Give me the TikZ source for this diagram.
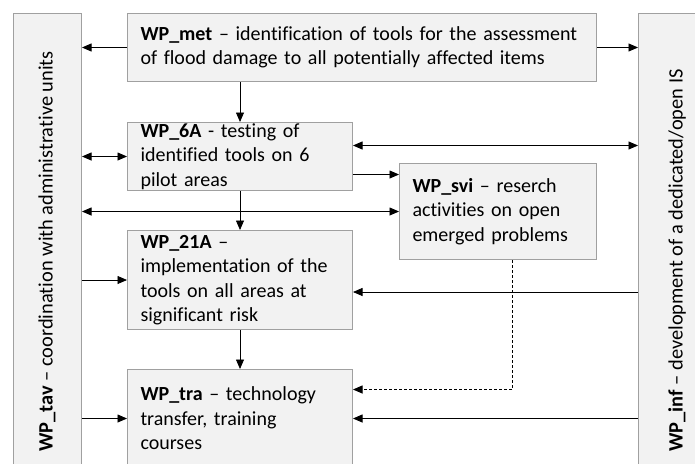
\documentclass[tikz,border=0pt]{standalone}
\usepackage{fontspec}
\setmainfont{Carlito}[Ligatures={NoCommon}]
\usetikzlibrary{arrows.meta,calc}
\definecolor{boxfill}{HTML}{F2F2F2}
\definecolor{boxline}{HTML}{A0A0A0}
\begin{document}
\begin{tikzpicture}[x=1pt,y=-1pt,
  wp/.style={draw=boxline, fill=boxfill, line width=1pt, rectangle, anchor=north west,
    inner xsep=13pt, inner ysep=0pt, align=left,
    font=\fontsize{20}{24.5}\selectfont},
  side/.style={draw=boxline, fill=boxfill, line width=1pt, rectangle, anchor=north west,
    minimum width=68pt, minimum height=460pt, inner sep=0pt},
  vlabel/.style={rotate=90, anchor=west, inner sep=0pt, font=\fontsize{20.4}{24}\selectfont},
  tip/.tip={Triangle[length=9.5pt,width=8pt]},
  arr/.style={line width=0.8pt, -tip},
  darr/.style={line width=0.8pt, tip-tip},
  dash arr/.style={line width=0.8pt, densely dashed, -tip}]
\useasboundingbox (0,0) rectangle (695,463);
\clip (0,0) rectangle (695,463);
\fill[white] (0,0) rectangle (695,463);
% side boxes
\node[side] (tav) at (13,13) {};
\node[side] (inf) at (638,13) {};
\node[vlabel] (tavl) at (47,452) {\textbf{WP\_tav} – coordination with administrative units};
\node[vlabel] (infl) at (677,452) {\textbf{WP\_inf} – development of a dedicated/open IS};
% main boxes
\node[wp, text width=443pt, minimum height=68pt] (met) at (127,13)
  {\textbf{WP\_met} – identification of tools for the assessment\\of flood damage to all potentially affected items};
\node[wp, text width=199pt, minimum height=68pt] (sixA) at (127,122)
  {\textbf{WP\_6A} - testing of\\identified tools on 6\\pilot areas};
\node[wp, text width=171pt, minimum height=96pt] (svi) at (399,163)
  {\textbf{WP\_svi} – reserch\\activities on open\\emerged problems};
\node[wp, text width=199pt, minimum height=99pt] (tw1A) at (127,230)
  {\textbf{WP\_21A} –\\implementation of the\\tools on all areas at\\significant risk};
\node[wp, text width=199pt, minimum height=98pt] (tra) at (127,369)
  {\textbf{WP\_tra} – technology\\transfer, training\\courses};
% connectors
\draw[arr] (met.west) -- (tav.east |- met.west);
\draw[arr] (met.east) -- (inf.west |- met.east);
\draw[arr] (sixA.north |- met.south) -- (sixA.north);
\draw[darr] (tav.east |- sixA.west) -- (sixA.west);
\coordinate (sixAr) at ($(sixA.east)+(0,-11)$);
\draw[darr] (sixAr) -- (inf.west |- sixAr);
\coordinate (sixAs) at ($(sixA.east)+(0,18)$);
\draw[arr] (sixAs) -- (svi.west |- sixAs);
\draw[darr] (tav.east |- svi.west) -- (svi.west);
\draw[arr] (tw1A.north |- sixA.south) -- (tw1A.north);
\draw[arr] (tav.east |- tw1A.west) -- (tw1A.west);
\coordinate (infA) at ($(tw1A.east)+(0,12)$);
\draw[arr] (inf.west |- infA) -- (infA);
\draw[arr] (tra.north |- tw1A.south) -- (tra.north);
\draw[arr] (tav.east |- tra.west) -- (tra.west);
\draw[arr] (inf.west |- tra.east) -- (tra.east);
\coordinate (sviB) at ($(svi.south)+(14,0)$);
\coordinate (traD) at ($(tra.east)+(0,-29)$);
\draw[dash arr] (sviB) |- (traD);
\end{tikzpicture}
\end{document}
